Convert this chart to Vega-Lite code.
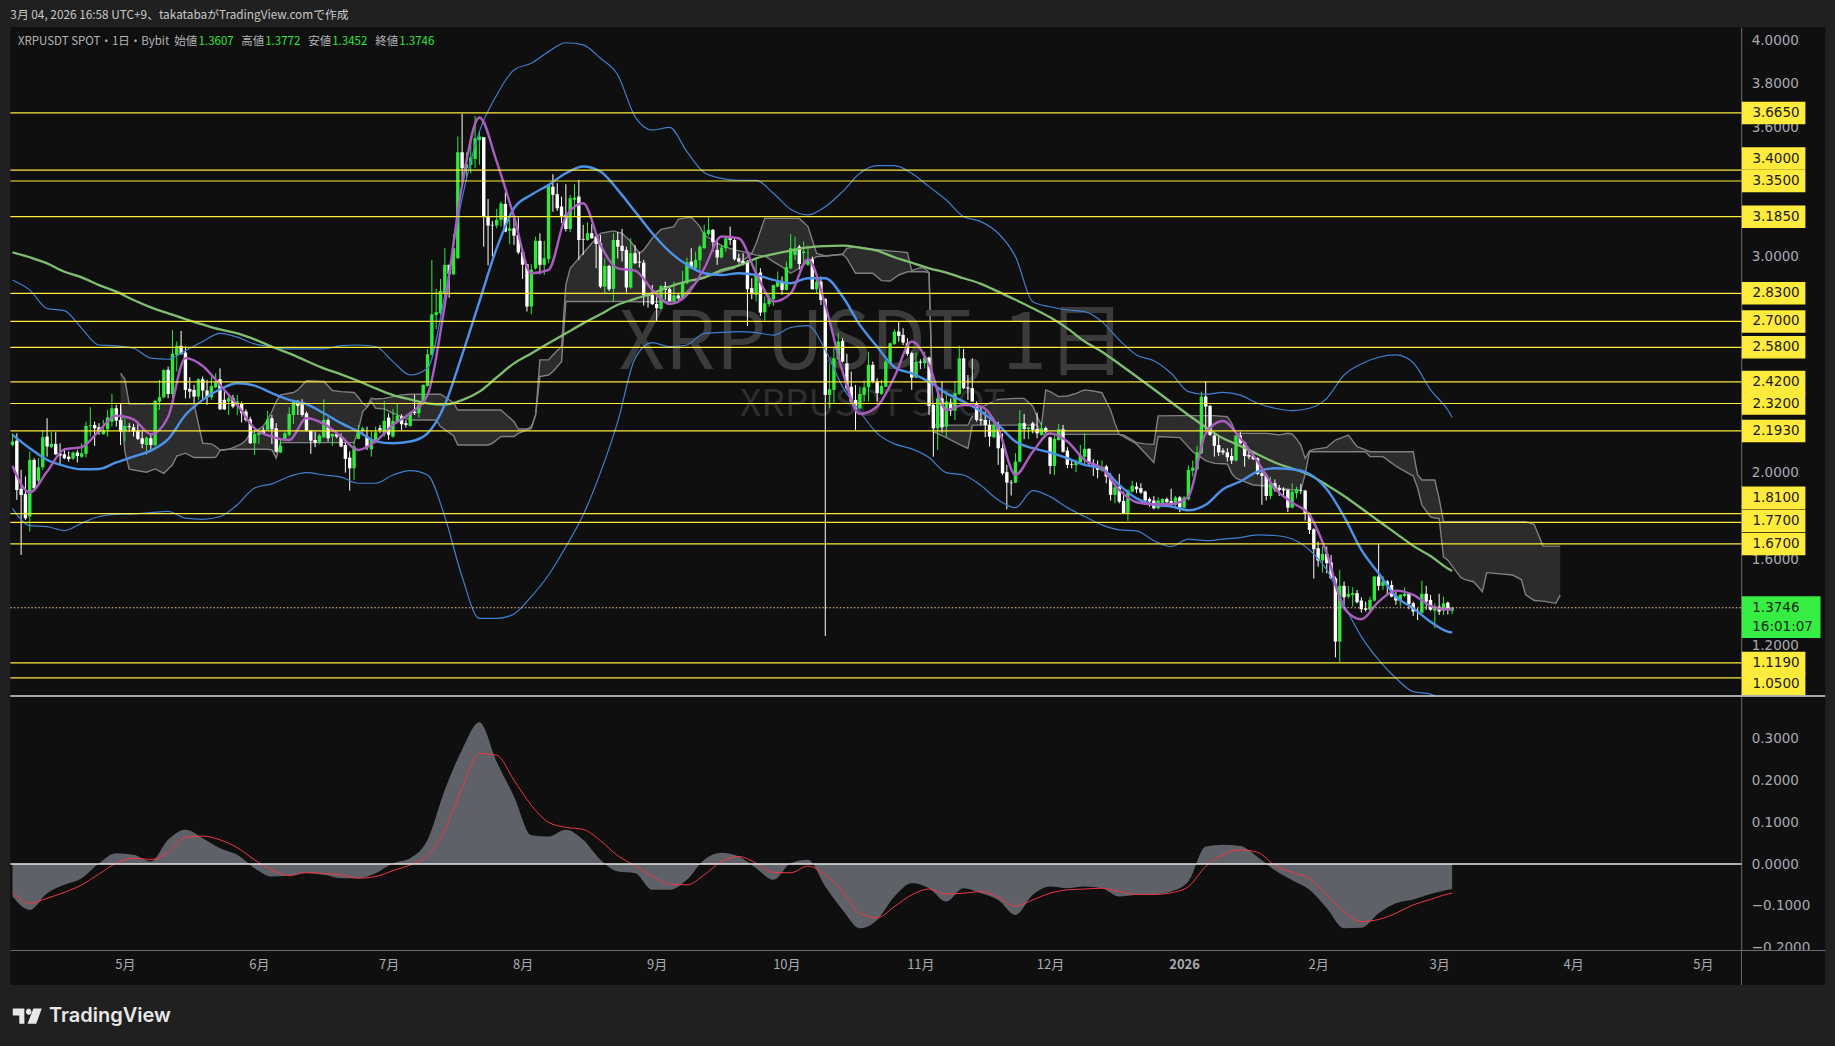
{
"$schema":"https://vega.github.io/schema/vega-lite/v6.json",
"background":"#202020",
"padding":{"left":7.2,"right":12.8,"top":0,"bottom":0},
"spacing":0,
"bounds":"flush",
"config":{"view":{"stroke":null},"axis":{"grid":false,"title":null}},
"datasets":{
"candles":[
{"d":"2025-04-05","o":2.128,"h":2.182,"l":2.121,"c":2.144},
{"d":"2025-04-06","o":2.148,"h":2.182,"l":1.874,"c":1.920},
{"d":"2025-04-07","o":1.925,"h":2.013,"l":1.619,"c":1.897},
{"d":"2025-04-08","o":1.902,"h":1.982,"l":1.781,"c":1.789},
{"d":"2025-04-09","o":1.797,"h":2.098,"l":1.727,"c":2.059},
{"d":"2025-04-10","o":2.059,"h":2.067,"l":1.920,"c":1.928},
{"d":"2025-04-11","o":1.963,"h":2.067,"l":1.951,"c":2.025},
{"d":"2025-04-12","o":2.025,"h":2.195,"l":2.013,"c":2.164},
{"d":"2025-04-13","o":2.167,"h":2.252,"l":2.074,"c":2.121},
{"d":"2025-04-14","o":2.118,"h":2.190,"l":2.113,"c":2.133},
{"d":"2025-04-15","o":2.133,"h":2.187,"l":2.082,"c":2.085},
{"d":"2025-04-16","o":2.088,"h":2.136,"l":2.040,"c":2.079},
{"d":"2025-04-17","o":2.085,"h":2.113,"l":2.062,"c":2.067},
{"d":"2025-04-18","o":2.074,"h":2.098,"l":2.051,"c":2.063},
{"d":"2025-04-19","o":2.065,"h":2.098,"l":2.059,"c":2.093},
{"d":"2025-04-20","o":2.093,"h":2.105,"l":2.047,"c":2.077},
{"d":"2025-04-21","o":2.074,"h":2.136,"l":2.067,"c":2.090},
{"d":"2025-04-22","o":2.087,"h":2.236,"l":2.071,"c":2.216},
{"d":"2025-04-23","o":2.215,"h":2.303,"l":2.167,"c":2.219},
{"d":"2025-04-24","o":2.221,"h":2.236,"l":2.124,"c":2.205},
{"d":"2025-04-25","o":2.210,"h":2.229,"l":2.175,"c":2.190},
{"d":"2025-04-26","o":2.179,"h":2.244,"l":2.175,"c":2.198},
{"d":"2025-04-27","o":2.201,"h":2.290,"l":2.167,"c":2.256},
{"d":"2025-04-28","o":2.236,"h":2.364,"l":2.213,"c":2.298},
{"d":"2025-04-29","o":2.298,"h":2.314,"l":2.213,"c":2.241},
{"d":"2025-04-30","o":2.244,"h":2.321,"l":2.128,"c":2.190},
{"d":"2025-05-01","o":2.192,"h":2.256,"l":2.144,"c":2.216},
{"d":"2025-05-02","o":2.215,"h":2.229,"l":2.190,"c":2.210},
{"d":"2025-05-03","o":2.210,"h":2.226,"l":2.167,"c":2.190},
{"d":"2025-05-04","o":2.195,"h":2.226,"l":2.151,"c":2.156},
{"d":"2025-05-05","o":2.159,"h":2.198,"l":2.113,"c":2.133},
{"d":"2025-05-06","o":2.128,"h":2.167,"l":2.082,"c":2.162},
{"d":"2025-05-07","o":2.159,"h":2.175,"l":2.108,"c":2.128},
{"d":"2025-05-08","o":2.128,"h":2.337,"l":2.121,"c":2.332},
{"d":"2025-05-09","o":2.329,"h":2.429,"l":2.290,"c":2.349},
{"d":"2025-05-10","o":2.349,"h":2.476,"l":2.344,"c":2.476},
{"d":"2025-05-11","o":2.476,"h":2.491,"l":2.344,"c":2.364},
{"d":"2025-05-12","o":2.364,"h":2.661,"l":2.344,"c":2.550},
{"d":"2025-05-13","o":2.545,"h":2.607,"l":2.468,"c":2.587},
{"d":"2025-05-14","o":2.587,"h":2.656,"l":2.545,"c":2.550},
{"d":"2025-05-15","o":2.556,"h":2.584,"l":2.344,"c":2.383},
{"d":"2025-05-16","o":2.388,"h":2.442,"l":2.344,"c":2.375},
{"d":"2025-05-17","o":2.383,"h":2.406,"l":2.321,"c":2.352},
{"d":"2025-05-18","o":2.352,"h":2.437,"l":2.337,"c":2.432},
{"d":"2025-05-19","o":2.432,"h":2.445,"l":2.337,"c":2.380},
{"d":"2025-05-20","o":2.380,"h":2.429,"l":2.314,"c":2.349},
{"d":"2025-05-21","o":2.349,"h":2.445,"l":2.337,"c":2.401},
{"d":"2025-05-22","o":2.395,"h":2.460,"l":2.391,"c":2.417},
{"d":"2025-05-23","o":2.432,"h":2.483,"l":2.290,"c":2.293},
{"d":"2025-05-24","o":2.337,"h":2.380,"l":2.290,"c":2.293},
{"d":"2025-05-25","o":2.329,"h":2.360,"l":2.267,"c":2.344},
{"d":"2025-05-26","o":2.344,"h":2.360,"l":2.298,"c":2.306},
{"d":"2025-05-27","o":2.310,"h":2.360,"l":2.267,"c":2.329},
{"d":"2025-05-28","o":2.321,"h":2.329,"l":2.232,"c":2.275},
{"d":"2025-05-29","o":2.283,"h":2.293,"l":2.236,"c":2.244},
{"d":"2025-05-30","o":2.247,"h":2.259,"l":2.133,"c":2.136},
{"d":"2025-05-31","o":2.136,"h":2.205,"l":2.082,"c":2.179},
{"d":"2025-06-01","o":2.175,"h":2.205,"l":2.133,"c":2.185},
{"d":"2025-06-02","o":2.198,"h":2.210,"l":2.175,"c":2.179},
{"d":"2025-06-03","o":2.198,"h":2.287,"l":2.195,"c":2.247},
{"d":"2025-06-04","o":2.252,"h":2.267,"l":2.133,"c":2.201},
{"d":"2025-06-05","o":2.205,"h":2.229,"l":2.093,"c":2.097},
{"d":"2025-06-06","o":2.093,"h":2.151,"l":2.090,"c":2.124},
{"d":"2025-06-07","o":2.155,"h":2.190,"l":2.148,"c":2.182},
{"d":"2025-06-08","o":2.175,"h":2.303,"l":2.167,"c":2.272},
{"d":"2025-06-09","o":2.267,"h":2.332,"l":2.226,"c":2.329},
{"d":"2025-06-10","o":2.329,"h":2.337,"l":2.267,"c":2.309},
{"d":"2025-06-11","o":2.317,"h":2.340,"l":2.259,"c":2.267},
{"d":"2025-06-12","o":2.275,"h":2.283,"l":2.190,"c":2.195},
{"d":"2025-06-13","o":2.195,"h":2.195,"l":2.087,"c":2.148},
{"d":"2025-06-14","o":2.151,"h":2.190,"l":2.118,"c":2.139},
{"d":"2025-06-15","o":2.139,"h":2.179,"l":2.133,"c":2.172},
{"d":"2025-06-16","o":2.164,"h":2.340,"l":2.159,"c":2.244},
{"d":"2025-06-17","o":2.244,"h":2.252,"l":2.144,"c":2.159},
{"d":"2025-06-18","o":2.167,"h":2.182,"l":2.124,"c":2.179},
{"d":"2025-06-19","o":2.178,"h":2.190,"l":2.159,"c":2.167},
{"d":"2025-06-20","o":2.167,"h":2.182,"l":2.118,"c":2.121},
{"d":"2025-06-21","o":2.128,"h":2.144,"l":2.000,"c":2.063},
{"d":"2025-06-22","o":2.070,"h":2.098,"l":1.917,"c":2.020},
{"d":"2025-06-23","o":2.020,"h":2.144,"l":1.966,"c":2.121},
{"d":"2025-06-24","o":2.156,"h":2.221,"l":2.155,"c":2.193},
{"d":"2025-06-25","o":2.193,"h":2.213,"l":2.182,"c":2.205},
{"d":"2025-06-26","o":2.167,"h":2.213,"l":2.105,"c":2.118},
{"d":"2025-06-27","o":2.108,"h":2.190,"l":2.074,"c":2.151},
{"d":"2025-06-28","o":2.141,"h":2.213,"l":2.136,"c":2.187},
{"d":"2025-06-29","o":2.206,"h":2.221,"l":2.183,"c":2.198},
{"d":"2025-06-30","o":2.182,"h":2.332,"l":2.167,"c":2.240},
{"d":"2025-07-01","o":2.255,"h":2.275,"l":2.152,"c":2.175},
{"d":"2025-07-02","o":2.167,"h":2.295,"l":2.162,"c":2.240},
{"d":"2025-07-03","o":2.233,"h":2.317,"l":2.229,"c":2.264},
{"d":"2025-07-04","o":2.260,"h":2.270,"l":2.198,"c":2.224},
{"d":"2025-07-05","o":2.229,"h":2.244,"l":2.209,"c":2.221},
{"d":"2025-07-06","o":2.216,"h":2.283,"l":2.213,"c":2.275},
{"d":"2025-07-07","o":2.283,"h":2.360,"l":2.267,"c":2.275},
{"d":"2025-07-08","o":2.275,"h":2.321,"l":2.255,"c":2.314},
{"d":"2025-07-09","o":2.318,"h":2.409,"l":2.314,"c":2.406},
{"d":"2025-07-10","o":2.401,"h":2.573,"l":2.398,"c":2.548},
{"d":"2025-07-11","o":2.545,"h":2.985,"l":2.542,"c":2.733},
{"d":"2025-07-12","o":2.730,"h":2.851,"l":2.665,"c":2.743},
{"d":"2025-07-13","o":2.738,"h":2.897,"l":2.730,"c":2.841},
{"d":"2025-07-14","o":2.830,"h":3.039,"l":2.823,"c":2.962},
{"d":"2025-07-15","o":2.962,"h":2.962,"l":2.810,"c":2.920},
{"d":"2025-07-16","o":2.918,"h":3.104,"l":2.915,"c":3.039},
{"d":"2025-07-17","o":2.993,"h":3.556,"l":2.989,"c":3.483},
{"d":"2025-07-18","o":3.483,"h":3.661,"l":3.350,"c":3.409},
{"d":"2025-07-19","o":3.409,"h":3.483,"l":3.350,"c":3.428},
{"d":"2025-07-20","o":3.425,"h":3.556,"l":3.386,"c":3.458},
{"d":"2025-07-21","o":3.452,"h":3.651,"l":3.409,"c":3.548},
{"d":"2025-07-22","o":3.540,"h":3.579,"l":3.425,"c":3.556},
{"d":"2025-07-23","o":3.553,"h":3.553,"l":3.046,"c":3.185},
{"d":"2025-07-24","o":3.185,"h":3.267,"l":2.959,"c":3.144},
{"d":"2025-07-25","o":3.147,"h":3.165,"l":3.000,"c":3.144},
{"d":"2025-07-26","o":3.144,"h":3.221,"l":3.131,"c":3.170},
{"d":"2025-07-27","o":3.170,"h":3.255,"l":3.139,"c":3.246},
{"d":"2025-07-28","o":3.244,"h":3.298,"l":3.113,"c":3.116},
{"d":"2025-07-29","o":3.119,"h":3.170,"l":3.057,"c":3.131},
{"d":"2025-07-30","o":3.131,"h":3.178,"l":3.054,"c":3.097},
{"d":"2025-07-31","o":3.100,"h":3.181,"l":3.011,"c":3.020},
{"d":"2025-08-01","o":3.023,"h":3.026,"l":2.897,"c":2.962},
{"d":"2025-08-02","o":2.965,"h":2.965,"l":2.746,"c":2.769},
{"d":"2025-08-03","o":2.769,"h":2.965,"l":2.733,"c":2.939},
{"d":"2025-08-04","o":2.946,"h":3.093,"l":2.939,"c":3.073},
{"d":"2025-08-05","o":3.073,"h":3.108,"l":2.918,"c":2.962},
{"d":"2025-08-06","o":2.962,"h":3.073,"l":2.915,"c":2.992},
{"d":"2025-08-07","o":2.989,"h":3.335,"l":2.969,"c":3.332},
{"d":"2025-08-08","o":3.324,"h":3.381,"l":3.208,"c":3.286},
{"d":"2025-08-09","o":3.289,"h":3.340,"l":3.212,"c":3.224},
{"d":"2025-08-10","o":3.232,"h":3.278,"l":3.155,"c":3.185},
{"d":"2025-08-11","o":3.193,"h":3.335,"l":3.116,"c":3.128},
{"d":"2025-08-12","o":3.128,"h":3.286,"l":3.113,"c":3.270},
{"d":"2025-08-13","o":3.263,"h":3.335,"l":3.185,"c":3.273},
{"d":"2025-08-14","o":3.278,"h":3.355,"l":2.985,"c":3.077},
{"d":"2025-08-15","o":3.080,"h":3.147,"l":3.008,"c":3.077},
{"d":"2025-08-16","o":3.077,"h":3.159,"l":3.073,"c":3.108},
{"d":"2025-08-17","o":3.108,"h":3.150,"l":3.082,"c":3.085},
{"d":"2025-08-18","o":3.093,"h":3.097,"l":2.946,"c":3.059},
{"d":"2025-08-19","o":3.062,"h":3.100,"l":2.854,"c":2.861},
{"d":"2025-08-20","o":2.861,"h":2.992,"l":2.826,"c":2.957},
{"d":"2025-08-21","o":2.957,"h":2.962,"l":2.841,"c":2.849},
{"d":"2025-08-22","o":2.851,"h":3.108,"l":2.792,"c":3.077},
{"d":"2025-08-23","o":3.077,"h":3.113,"l":2.992,"c":3.046},
{"d":"2025-08-24","o":3.050,"h":3.128,"l":2.977,"c":3.026},
{"d":"2025-08-25","o":3.031,"h":3.046,"l":2.835,"c":2.857},
{"d":"2025-08-26","o":2.857,"h":3.085,"l":2.851,"c":3.016},
{"d":"2025-08-27","o":3.016,"h":3.054,"l":2.965,"c":2.969},
{"d":"2025-08-28","o":2.977,"h":3.023,"l":2.949,"c":2.972},
{"d":"2025-08-29","o":2.972,"h":2.985,"l":2.773,"c":2.823},
{"d":"2025-08-30","o":2.823,"h":2.830,"l":2.764,"c":2.818},
{"d":"2025-08-31","o":2.823,"h":2.869,"l":2.776,"c":2.780},
{"d":"2025-09-01","o":2.781,"h":2.815,"l":2.702,"c":2.761},
{"d":"2025-09-02","o":2.758,"h":2.869,"l":2.753,"c":2.864},
{"d":"2025-09-03","o":2.864,"h":2.884,"l":2.800,"c":2.846},
{"d":"2025-09-04","o":2.849,"h":2.861,"l":2.792,"c":2.795},
{"d":"2025-09-05","o":2.795,"h":2.884,"l":2.789,"c":2.820},
{"d":"2025-09-06","o":2.820,"h":2.826,"l":2.800,"c":2.807},
{"d":"2025-09-07","o":2.807,"h":2.934,"l":2.804,"c":2.881},
{"d":"2025-09-08","o":2.877,"h":2.996,"l":2.872,"c":2.974},
{"d":"2025-09-09","o":2.977,"h":3.039,"l":2.943,"c":2.946},
{"d":"2025-09-10","o":2.946,"h":3.023,"l":2.943,"c":2.985},
{"d":"2025-09-11","o":2.983,"h":3.054,"l":2.939,"c":3.046},
{"d":"2025-09-12","o":3.039,"h":3.147,"l":3.036,"c":3.111},
{"d":"2025-09-13","o":3.104,"h":3.182,"l":3.097,"c":3.124},
{"d":"2025-09-14","o":3.124,"h":3.128,"l":3.023,"c":3.067},
{"d":"2025-09-15","o":3.031,"h":3.070,"l":2.962,"c":2.996},
{"d":"2025-09-16","o":2.996,"h":3.054,"l":2.992,"c":3.042},
{"d":"2025-09-17","o":3.039,"h":3.093,"l":3.023,"c":3.085},
{"d":"2025-09-18","o":3.085,"h":3.139,"l":3.054,"c":3.077},
{"d":"2025-09-19","o":3.077,"h":3.090,"l":2.982,"c":2.988},
{"d":"2025-09-20","o":2.992,"h":3.013,"l":2.972,"c":2.977},
{"d":"2025-09-21","o":2.980,"h":3.016,"l":2.959,"c":2.965},
{"d":"2025-09-22","o":2.977,"h":2.985,"l":2.679,"c":2.849},
{"d":"2025-09-23","o":2.854,"h":2.900,"l":2.803,"c":2.826},
{"d":"2025-09-24","o":2.823,"h":2.996,"l":2.792,"c":2.923},
{"d":"2025-09-25","o":2.926,"h":2.946,"l":2.725,"c":2.741},
{"d":"2025-09-26","o":2.742,"h":2.815,"l":2.704,"c":2.784},
{"d":"2025-09-27","o":2.781,"h":2.830,"l":2.769,"c":2.807},
{"d":"2025-09-28","o":2.803,"h":2.869,"l":2.772,"c":2.869},
{"d":"2025-09-29","o":2.861,"h":2.931,"l":2.858,"c":2.884},
{"d":"2025-09-30","o":2.884,"h":2.908,"l":2.823,"c":2.846},
{"d":"2025-10-01","o":2.846,"h":2.977,"l":2.843,"c":2.951},
{"d":"2025-10-02","o":2.946,"h":3.105,"l":2.941,"c":3.039},
{"d":"2025-10-03","o":3.008,"h":3.093,"l":2.985,"c":3.039},
{"d":"2025-10-04","o":3.046,"h":3.054,"l":2.941,"c":2.966},
{"d":"2025-10-05","o":3.016,"h":3.070,"l":2.962,"c":3.023},
{"d":"2025-10-06","o":2.962,"h":3.050,"l":2.957,"c":2.988},
{"d":"2025-10-07","o":2.988,"h":3.000,"l":2.849,"c":2.849},
{"d":"2025-10-08","o":2.849,"h":2.926,"l":2.830,"c":2.884},
{"d":"2025-10-09","o":2.884,"h":2.908,"l":2.776,"c":2.799},
{"d":"2025-10-10","o":2.804,"h":2.807,"l":1.244,"c":2.360},
{"d":"2025-10-11","o":2.360,"h":2.506,"l":2.298,"c":2.386},
{"d":"2025-10-12","o":2.383,"h":2.583,"l":2.318,"c":2.529},
{"d":"2025-10-13","o":2.525,"h":2.648,"l":2.522,"c":2.607},
{"d":"2025-10-14","o":2.610,"h":2.622,"l":2.510,"c":2.514},
{"d":"2025-10-15","o":2.506,"h":2.550,"l":2.383,"c":2.391},
{"d":"2025-10-16","o":2.398,"h":2.468,"l":2.321,"c":2.329},
{"d":"2025-10-17","o":2.337,"h":2.406,"l":2.198,"c":2.293},
{"d":"2025-10-18","o":2.298,"h":2.398,"l":2.293,"c":2.364},
{"d":"2025-10-19","o":2.360,"h":2.426,"l":2.329,"c":2.395},
{"d":"2025-10-20","o":2.395,"h":2.560,"l":2.329,"c":2.499},
{"d":"2025-10-21","o":2.499,"h":2.514,"l":2.414,"c":2.422},
{"d":"2025-10-22","o":2.422,"h":2.437,"l":2.329,"c":2.368},
{"d":"2025-10-23","o":2.364,"h":2.429,"l":2.360,"c":2.401},
{"d":"2025-10-24","o":2.398,"h":2.522,"l":2.395,"c":2.514},
{"d":"2025-10-25","o":2.506,"h":2.602,"l":2.503,"c":2.599},
{"d":"2025-10-26","o":2.596,"h":2.664,"l":2.591,"c":2.653},
{"d":"2025-10-27","o":2.653,"h":2.699,"l":2.607,"c":2.633},
{"d":"2025-10-28","o":2.638,"h":2.668,"l":2.591,"c":2.602},
{"d":"2025-10-29","o":2.599,"h":2.622,"l":2.540,"c":2.550},
{"d":"2025-10-30","o":2.553,"h":2.560,"l":2.383,"c":2.440},
{"d":"2025-10-31","o":2.440,"h":2.556,"l":2.437,"c":2.514},
{"d":"2025-11-01","o":2.514,"h":2.525,"l":2.479,"c":2.509},
{"d":"2025-11-02","o":2.506,"h":2.560,"l":2.483,"c":2.534},
{"d":"2025-11-03","o":2.533,"h":2.537,"l":2.267,"c":2.309},
{"d":"2025-11-04","o":2.313,"h":2.321,"l":2.074,"c":2.206},
{"d":"2025-11-05","o":2.206,"h":2.383,"l":2.105,"c":2.344},
{"d":"2025-11-06","o":2.344,"h":2.422,"l":2.185,"c":2.210},
{"d":"2025-11-07","o":2.213,"h":2.378,"l":2.164,"c":2.329},
{"d":"2025-11-08","o":2.324,"h":2.344,"l":2.263,"c":2.287},
{"d":"2025-11-09","o":2.287,"h":2.422,"l":2.244,"c":2.368},
{"d":"2025-11-10","o":2.364,"h":2.587,"l":2.360,"c":2.529},
{"d":"2025-11-11","o":2.529,"h":2.573,"l":2.386,"c":2.391},
{"d":"2025-11-12","o":2.394,"h":2.452,"l":2.337,"c":2.389},
{"d":"2025-11-13","o":2.391,"h":2.529,"l":2.329,"c":2.329},
{"d":"2025-11-14","o":2.321,"h":2.329,"l":2.236,"c":2.244},
{"d":"2025-11-15","o":2.247,"h":2.306,"l":2.221,"c":2.241},
{"d":"2025-11-16","o":2.244,"h":2.283,"l":2.164,"c":2.221},
{"d":"2025-11-17","o":2.221,"h":2.244,"l":2.121,"c":2.167},
{"d":"2025-11-18","o":2.164,"h":2.252,"l":2.159,"c":2.221},
{"d":"2025-11-19","o":2.221,"h":2.236,"l":2.036,"c":2.113},
{"d":"2025-11-20","o":2.113,"h":2.182,"l":1.989,"c":1.997},
{"d":"2025-11-21","o":2.002,"h":2.036,"l":1.830,"c":1.954},
{"d":"2025-11-22","o":1.954,"h":1.966,"l":1.894,"c":1.951},
{"d":"2025-11-23","o":1.954,"h":2.090,"l":1.951,"c":2.051},
{"d":"2025-11-24","o":2.051,"h":2.290,"l":2.047,"c":2.229},
{"d":"2025-11-25","o":2.229,"h":2.272,"l":2.155,"c":2.202},
{"d":"2025-11-26","o":2.201,"h":2.213,"l":2.155,"c":2.210},
{"d":"2025-11-27","o":2.229,"h":2.236,"l":2.182,"c":2.198},
{"d":"2025-11-28","o":2.202,"h":2.278,"l":2.159,"c":2.182},
{"d":"2025-11-29","o":2.175,"h":2.232,"l":2.170,"c":2.206},
{"d":"2025-11-30","o":2.206,"h":2.213,"l":2.182,"c":2.190},
{"d":"2025-12-01","o":2.164,"h":2.167,"l":1.993,"c":2.031},
{"d":"2025-12-02","o":2.031,"h":2.182,"l":1.989,"c":2.156},
{"d":"2025-12-03","o":2.151,"h":2.226,"l":2.148,"c":2.201},
{"d":"2025-12-04","o":2.201,"h":2.221,"l":2.093,"c":2.097},
{"d":"2025-12-05","o":2.102,"h":2.118,"l":2.020,"c":2.036},
{"d":"2025-12-06","o":2.039,"h":2.056,"l":2.020,"c":2.036},
{"d":"2025-12-07","o":2.034,"h":2.059,"l":2.002,"c":2.051},
{"d":"2025-12-08","o":2.048,"h":2.128,"l":2.040,"c":2.082},
{"d":"2025-12-09","o":2.074,"h":2.182,"l":2.036,"c":2.110},
{"d":"2025-12-10","o":2.110,"h":2.113,"l":2.036,"c":2.043},
{"d":"2025-12-11","o":2.043,"h":2.062,"l":1.985,"c":2.028},
{"d":"2025-12-12","o":2.031,"h":2.056,"l":1.974,"c":2.013},
{"d":"2025-12-13","o":2.009,"h":2.056,"l":2.005,"c":2.028},
{"d":"2025-12-14","o":2.028,"h":2.036,"l":1.951,"c":1.982},
{"d":"2025-12-15","o":1.985,"h":1.997,"l":1.871,"c":1.897},
{"d":"2025-12-16","o":1.897,"h":1.954,"l":1.858,"c":1.932},
{"d":"2025-12-17","o":1.935,"h":1.994,"l":1.858,"c":1.866},
{"d":"2025-12-18","o":1.869,"h":1.912,"l":1.809,"c":1.812},
{"d":"2025-12-19","o":1.812,"h":1.923,"l":1.777,"c":1.917},
{"d":"2025-12-20","o":1.912,"h":1.962,"l":1.908,"c":1.939},
{"d":"2025-12-21","o":1.935,"h":1.955,"l":1.905,"c":1.923},
{"d":"2025-12-22","o":1.928,"h":1.951,"l":1.902,"c":1.908},
{"d":"2025-12-23","o":1.912,"h":1.917,"l":1.866,"c":1.871},
{"d":"2025-12-24","o":1.878,"h":1.886,"l":1.843,"c":1.866},
{"d":"2025-12-25","o":1.871,"h":1.892,"l":1.830,"c":1.835},
{"d":"2025-12-26","o":1.835,"h":1.886,"l":1.830,"c":1.871},
{"d":"2025-12-27","o":1.858,"h":1.881,"l":1.854,"c":1.878},
{"d":"2025-12-28","o":1.878,"h":1.885,"l":1.858,"c":1.863},
{"d":"2025-12-29","o":1.869,"h":1.925,"l":1.846,"c":1.851},
{"d":"2025-12-30","o":1.851,"h":1.892,"l":1.846,"c":1.885},
{"d":"2025-12-31","o":1.885,"h":1.892,"l":1.817,"c":1.838},
{"d":"2026-01-01","o":1.838,"h":1.892,"l":1.835,"c":1.885},
{"d":"2026-01-02","o":1.877,"h":2.033,"l":1.871,"c":2.013},
{"d":"2026-01-03","o":2.009,"h":2.056,"l":1.982,"c":2.023},
{"d":"2026-01-04","o":2.017,"h":2.124,"l":2.013,"c":2.094},
{"d":"2026-01-05","o":2.090,"h":2.375,"l":2.087,"c":2.352},
{"d":"2026-01-06","o":2.352,"h":2.422,"l":2.198,"c":2.306},
{"d":"2026-01-07","o":2.309,"h":2.313,"l":2.170,"c":2.175},
{"d":"2026-01-08","o":2.172,"h":2.182,"l":2.074,"c":2.124},
{"d":"2026-01-09","o":2.128,"h":2.167,"l":2.077,"c":2.094},
{"d":"2026-01-10","o":2.102,"h":2.113,"l":2.082,"c":2.093},
{"d":"2026-01-11","o":2.094,"h":2.113,"l":2.051,"c":2.071},
{"d":"2026-01-12","o":2.077,"h":2.113,"l":2.040,"c":2.056},
{"d":"2026-01-13","o":2.056,"h":2.175,"l":2.051,"c":2.172},
{"d":"2026-01-14","o":2.172,"h":2.190,"l":2.133,"c":2.136},
{"d":"2026-01-15","o":2.139,"h":2.144,"l":2.028,"c":2.077},
{"d":"2026-01-16","o":2.082,"h":2.105,"l":2.062,"c":2.074},
{"d":"2026-01-17","o":2.077,"h":2.087,"l":2.059,"c":2.062},
{"d":"2026-01-18","o":2.067,"h":2.071,"l":1.989,"c":1.994},
{"d":"2026-01-19","o":1.997,"h":2.028,"l":1.851,"c":1.985},
{"d":"2026-01-20","o":1.989,"h":1.997,"l":1.871,"c":1.892},
{"d":"2026-01-21","o":1.892,"h":1.982,"l":1.877,"c":1.954},
{"d":"2026-01-22","o":1.951,"h":1.969,"l":1.912,"c":1.923},
{"d":"2026-01-23","o":1.928,"h":1.943,"l":1.892,"c":1.920},
{"d":"2026-01-24","o":1.923,"h":1.932,"l":1.889,"c":1.917},
{"d":"2026-01-25","o":1.920,"h":1.923,"l":1.818,"c":1.838},
{"d":"2026-01-26","o":1.838,"h":1.951,"l":1.835,"c":1.912},
{"d":"2026-01-27","o":1.905,"h":1.935,"l":1.881,"c":1.923},
{"d":"2026-01-28","o":1.920,"h":1.948,"l":1.902,"c":1.917},
{"d":"2026-01-29","o":1.917,"h":1.920,"l":1.778,"c":1.812},
{"d":"2026-01-30","o":1.812,"h":1.815,"l":1.716,"c":1.735},
{"d":"2026-01-31","o":1.738,"h":1.743,"l":1.510,"c":1.645},
{"d":"2026-02-01","o":1.650,"h":1.681,"l":1.565,"c":1.593},
{"d":"2026-02-02","o":1.593,"h":1.658,"l":1.537,"c":1.624},
{"d":"2026-02-03","o":1.624,"h":1.658,"l":1.534,"c":1.581},
{"d":"2026-02-04","o":1.584,"h":1.619,"l":1.506,"c":1.511},
{"d":"2026-02-05","o":1.511,"h":1.519,"l":1.145,"c":1.218},
{"d":"2026-02-06","o":1.218,"h":1.550,"l":1.124,"c":1.476},
{"d":"2026-02-07","o":1.476,"h":1.496,"l":1.388,"c":1.423},
{"d":"2026-02-08","o":1.426,"h":1.476,"l":1.418,"c":1.439},
{"d":"2026-02-09","o":1.434,"h":1.469,"l":1.380,"c":1.442},
{"d":"2026-02-10","o":1.442,"h":1.457,"l":1.395,"c":1.400},
{"d":"2026-02-11","o":1.408,"h":1.423,"l":1.352,"c":1.368},
{"d":"2026-02-12","o":1.372,"h":1.403,"l":1.357,"c":1.365},
{"d":"2026-02-13","o":1.365,"h":1.426,"l":1.357,"c":1.411},
{"d":"2026-02-14","o":1.408,"h":1.522,"l":1.403,"c":1.519},
{"d":"2026-02-15","o":1.519,"h":1.670,"l":1.454,"c":1.476},
{"d":"2026-02-16","o":1.476,"h":1.522,"l":1.457,"c":1.496},
{"d":"2026-02-17","o":1.496,"h":1.503,"l":1.437,"c":1.480},
{"d":"2026-02-18","o":1.480,"h":1.500,"l":1.423,"c":1.426},
{"d":"2026-02-19","o":1.429,"h":1.449,"l":1.388,"c":1.408},
{"d":"2026-02-20","o":1.408,"h":1.439,"l":1.380,"c":1.434},
{"d":"2026-02-21","o":1.429,"h":1.469,"l":1.422,"c":1.439},
{"d":"2026-02-22","o":1.439,"h":1.445,"l":1.368,"c":1.392},
{"d":"2026-02-23","o":1.395,"h":1.403,"l":1.337,"c":1.357},
{"d":"2026-02-24","o":1.361,"h":1.372,"l":1.318,"c":1.357},
{"d":"2026-02-25","o":1.352,"h":1.500,"l":1.346,"c":1.439},
{"d":"2026-02-26","o":1.439,"h":1.476,"l":1.365,"c":1.403},
{"d":"2026-02-27","o":1.411,"h":1.434,"l":1.361,"c":1.365},
{"d":"2026-02-28","o":1.361,"h":1.395,"l":1.280,"c":1.377},
{"d":"2026-03-01","o":1.380,"h":1.439,"l":1.341,"c":1.357},
{"d":"2026-03-02","o":1.361,"h":1.426,"l":1.341,"c":1.395},
{"d":"2026-03-03","o":1.398,"h":1.403,"l":1.344,"c":1.372},
{"d":"2026-03-04","o":1.3607,"h":1.3772,"l":1.3452,"c":1.3746}
],
"lines":[
{"d":"2025-04-05","up":2.892,"lo":1.835,"mid":2.175,"fast":2.031,"slow":3.020,"macd":-0.078,"sig":-0.066},
{"d":"2025-04-09","up":2.845,"lo":1.755,"mid":2.113,"fast":1.909,"slow":2.997,"macd":-0.110,"sig":-0.094},
{"d":"2025-04-13","up":2.760,"lo":1.750,"mid":2.059,"fast":2.005,"slow":2.969,"macd":-0.070,"sig":-0.082},
{"d":"2025-04-17","up":2.750,"lo":1.732,"mid":2.031,"fast":2.108,"slow":2.930,"macd":-0.050,"sig":-0.068},
{"d":"2025-04-21","up":2.668,"lo":1.766,"mid":2.016,"fast":2.118,"slow":2.904,"macd":-0.034,"sig":-0.050},
{"d":"2025-04-25","up":2.591,"lo":1.797,"mid":2.017,"fast":2.193,"slow":2.868,"macd":0.002,"sig":-0.024},
{"d":"2025-04-29","up":2.587,"lo":1.807,"mid":2.047,"fast":2.264,"slow":2.838,"macd":0.026,"sig":0.002},
{"d":"2025-05-03","up":2.576,"lo":1.809,"mid":2.074,"fast":2.247,"slow":2.799,"macd":0.022,"sig":0.014},
{"d":"2025-05-07","up":2.530,"lo":1.815,"mid":2.102,"fast":2.178,"slow":2.765,"macd":0.006,"sig":0.011},
{"d":"2025-05-11","up":2.525,"lo":1.821,"mid":2.155,"fast":2.259,"slow":2.737,"macd":0.058,"sig":0.028},
{"d":"2025-05-15","up":2.565,"lo":1.789,"mid":2.267,"fast":2.530,"slow":2.711,"macd":0.082,"sig":0.064},
{"d":"2025-05-19","up":2.607,"lo":1.784,"mid":2.337,"fast":2.494,"slow":2.686,"macd":0.062,"sig":0.067},
{"d":"2025-05-23","up":2.645,"lo":1.797,"mid":2.386,"fast":2.406,"slow":2.663,"macd":0.038,"sig":0.058},
{"d":"2025-05-27","up":2.627,"lo":1.851,"mid":2.414,"fast":2.313,"slow":2.645,"macd":0.022,"sig":0.039},
{"d":"2025-05-31","up":2.596,"lo":1.929,"mid":2.403,"fast":2.205,"slow":2.617,"macd":-0.010,"sig":0.010},
{"d":"2025-06-04","up":2.581,"lo":1.948,"mid":2.368,"fast":2.167,"slow":2.583,"macd":-0.030,"sig":-0.014},
{"d":"2025-06-08","up":2.573,"lo":1.982,"mid":2.337,"fast":2.151,"slow":2.552,"macd":-0.028,"sig":-0.028},
{"d":"2025-06-12","up":2.573,"lo":2.000,"mid":2.317,"fast":2.252,"slow":2.517,"macd":-0.022,"sig":-0.020},
{"d":"2025-06-16","up":2.573,"lo":1.989,"mid":2.275,"fast":2.226,"slow":2.483,"macd":-0.026,"sig":-0.023},
{"d":"2025-06-20","up":2.588,"lo":1.979,"mid":2.229,"fast":2.167,"slow":2.455,"macd":-0.034,"sig":-0.026},
{"d":"2025-06-24","up":2.591,"lo":1.951,"mid":2.190,"fast":2.105,"slow":2.424,"macd":-0.034,"sig":-0.034},
{"d":"2025-06-28","up":2.584,"lo":1.951,"mid":2.145,"fast":2.145,"slow":2.390,"macd":-0.022,"sig":-0.030},
{"d":"2025-07-02","up":2.514,"lo":1.989,"mid":2.136,"fast":2.221,"slow":2.359,"macd":0.002,"sig":-0.016},
{"d":"2025-07-06","up":2.452,"lo":2.009,"mid":2.144,"fast":2.275,"slow":2.339,"macd":0.014,"sig":-0.002},
{"d":"2025-07-10","up":2.483,"lo":1.989,"mid":2.182,"fast":2.360,"slow":2.321,"macd":0.058,"sig":0.020},
{"d":"2025-07-14","up":2.823,"lo":1.796,"mid":2.314,"fast":2.777,"slow":2.315,"macd":0.178,"sig":0.082},
{"d":"2025-07-18","up":3.270,"lo":1.518,"mid":2.545,"fast":3.332,"slow":2.336,"macd":0.274,"sig":0.182},
{"d":"2025-07-22","up":3.579,"lo":1.325,"mid":2.792,"fast":3.644,"slow":2.375,"macd":0.340,"sig":0.265},
{"d":"2025-07-26","up":3.748,"lo":1.325,"mid":3.039,"fast":3.440,"slow":2.441,"macd":0.245,"sig":0.261},
{"d":"2025-07-30","up":3.864,"lo":1.346,"mid":3.224,"fast":3.185,"slow":2.506,"macd":0.162,"sig":0.201},
{"d":"2025-08-03","up":3.895,"lo":1.426,"mid":3.286,"fast":2.923,"slow":2.552,"macd":0.069,"sig":0.141},
{"d":"2025-08-07","up":3.949,"lo":1.526,"mid":3.332,"fast":2.939,"slow":2.599,"macd":0.066,"sig":0.100},
{"d":"2025-08-11","up":3.990,"lo":1.657,"mid":3.386,"fast":3.185,"slow":2.645,"macd":0.082,"sig":0.088},
{"d":"2025-08-15","up":3.980,"lo":1.804,"mid":3.417,"fast":3.247,"slow":2.691,"macd":0.058,"sig":0.083},
{"d":"2025-08-19","up":3.918,"lo":2.000,"mid":3.394,"fast":3.054,"slow":2.733,"macd":0.010,"sig":0.056},
{"d":"2025-08-23","up":3.841,"lo":2.236,"mid":3.309,"fast":2.946,"slow":2.777,"macd":-0.018,"sig":0.020},
{"d":"2025-08-27","up":3.648,"lo":2.529,"mid":3.209,"fast":2.935,"slow":2.804,"macd":-0.022,"sig":-0.004},
{"d":"2025-08-31","up":3.586,"lo":2.602,"mid":3.108,"fast":2.846,"slow":2.831,"macd":-0.062,"sig":-0.029},
{"d":"2025-09-04","up":3.598,"lo":2.583,"mid":3.023,"fast":2.781,"slow":2.861,"macd":-0.062,"sig":-0.048},
{"d":"2025-09-08","up":3.486,"lo":2.591,"mid":2.962,"fast":2.823,"slow":2.885,"macd":-0.038,"sig":-0.050},
{"d":"2025-09-12","up":3.389,"lo":2.645,"mid":2.923,"fast":2.946,"slow":2.903,"macd":0.010,"sig":-0.026},
{"d":"2025-09-16","up":3.362,"lo":2.649,"mid":2.915,"fast":3.093,"slow":2.938,"macd":0.027,"sig":0.006},
{"d":"2025-09-20","up":3.353,"lo":2.653,"mid":2.923,"fast":3.085,"slow":2.958,"macd":0.018,"sig":0.018},
{"d":"2025-09-24","up":3.353,"lo":2.648,"mid":2.915,"fast":2.923,"slow":2.992,"macd":-0.010,"sig":0.002},
{"d":"2025-09-28","up":3.293,"lo":2.637,"mid":2.892,"fast":2.792,"slow":3.012,"macd":-0.038,"sig":-0.020},
{"d":"2025-10-02","up":3.219,"lo":2.672,"mid":2.877,"fast":2.830,"slow":3.028,"macd":0.002,"sig":-0.021},
{"d":"2025-10-06","up":3.193,"lo":2.681,"mid":2.900,"fast":2.988,"slow":3.043,"macd":0.010,"sig":-0.005},
{"d":"2025-10-10","up":3.231,"lo":2.568,"mid":2.900,"fast":2.776,"slow":3.049,"macd":-0.054,"sig":-0.026},
{"d":"2025-10-14","up":3.301,"lo":2.398,"mid":2.815,"fast":2.468,"slow":3.051,"macd":-0.110,"sig":-0.066},
{"d":"2025-10-18","up":3.386,"lo":2.283,"mid":2.684,"fast":2.272,"slow":3.042,"macd":-0.154,"sig":-0.118},
{"d":"2025-10-22","up":3.421,"lo":2.182,"mid":2.583,"fast":2.306,"slow":3.028,"macd":-0.134,"sig":-0.129},
{"d":"2025-10-26","up":3.421,"lo":2.133,"mid":2.488,"fast":2.444,"slow":2.997,"macd":-0.078,"sig":-0.102},
{"d":"2025-10-30","up":3.386,"lo":2.110,"mid":2.460,"fast":2.607,"slow":2.972,"macd":-0.046,"sig":-0.074},
{"d":"2025-11-03","up":3.324,"lo":2.070,"mid":2.421,"fast":2.499,"slow":2.946,"macd":-0.058,"sig":-0.060},
{"d":"2025-11-07","up":3.262,"lo":2.000,"mid":2.368,"fast":2.290,"slow":2.926,"macd":-0.090,"sig":-0.072},
{"d":"2025-11-11","up":3.185,"lo":1.989,"mid":2.329,"fast":2.313,"slow":2.900,"macd":-0.058,"sig":-0.070},
{"d":"2025-11-15","up":3.162,"lo":1.940,"mid":2.283,"fast":2.306,"slow":2.874,"macd":-0.070,"sig":-0.066},
{"d":"2025-11-19","up":3.108,"lo":1.874,"mid":2.221,"fast":2.205,"slow":2.838,"macd":-0.086,"sig":-0.080},
{"d":"2025-11-23","up":3.000,"lo":1.838,"mid":2.144,"fast":1.990,"slow":2.800,"macd":-0.122,"sig":-0.101},
{"d":"2025-11-27","up":2.791,"lo":1.917,"mid":2.113,"fast":2.097,"slow":2.761,"macd":-0.074,"sig":-0.086},
{"d":"2025-12-01","up":2.768,"lo":1.889,"mid":2.093,"fast":2.182,"slow":2.719,"macd":-0.054,"sig":-0.070},
{"d":"2025-12-05","up":2.753,"lo":1.838,"mid":2.067,"fast":2.144,"slow":2.668,"macd":-0.058,"sig":-0.062},
{"d":"2025-12-09","up":2.745,"lo":1.797,"mid":2.036,"fast":2.059,"slow":2.607,"macd":-0.054,"sig":-0.060},
{"d":"2025-12-13","up":2.699,"lo":1.758,"mid":2.020,"fast":2.020,"slow":2.560,"macd":-0.058,"sig":-0.058},
{"d":"2025-12-17","up":2.614,"lo":1.735,"mid":1.943,"fast":1.920,"slow":2.503,"macd":-0.078,"sig":-0.066},
{"d":"2025-12-21","up":2.545,"lo":1.730,"mid":1.881,"fast":1.863,"slow":2.445,"macd":-0.074,"sig":-0.073},
{"d":"2025-12-25","up":2.518,"lo":1.685,"mid":1.851,"fast":1.854,"slow":2.386,"macd":-0.073,"sig":-0.073},
{"d":"2025-12-29","up":2.460,"lo":1.658,"mid":1.843,"fast":1.854,"slow":2.326,"macd":-0.066,"sig":-0.069},
{"d":"2026-01-02","up":2.375,"lo":1.692,"mid":1.826,"fast":1.889,"slow":2.267,"macd":-0.042,"sig":-0.054},
{"d":"2026-01-06","up":2.362,"lo":1.685,"mid":1.851,"fast":2.182,"slow":2.210,"macd":0.042,"sig":-0.006},
{"d":"2026-01-10","up":2.372,"lo":1.692,"mid":1.923,"fast":2.239,"slow":2.159,"macd":0.046,"sig":0.022},
{"d":"2026-01-14","up":2.359,"lo":1.699,"mid":1.959,"fast":2.159,"slow":2.124,"macd":0.043,"sig":0.034},
{"d":"2026-01-18","up":2.321,"lo":1.712,"mid":2.005,"fast":2.051,"slow":2.085,"macd":0.017,"sig":0.028},
{"d":"2026-01-22","up":2.298,"lo":1.709,"mid":2.020,"fast":1.928,"slow":2.047,"macd":-0.015,"sig":-0.003},
{"d":"2026-01-26","up":2.287,"lo":1.693,"mid":2.016,"fast":1.861,"slow":2.019,"macd":-0.039,"sig":-0.020},
{"d":"2026-01-30","up":2.298,"lo":1.642,"mid":1.994,"fast":1.804,"slow":1.989,"macd":-0.062,"sig":-0.035},
{"d":"2026-02-03","up":2.344,"lo":1.550,"mid":1.923,"fast":1.627,"slow":1.943,"macd":-0.106,"sig":-0.074},
{"d":"2026-02-07","up":2.452,"lo":1.388,"mid":1.796,"fast":1.372,"slow":1.892,"macd":-0.154,"sig":-0.114},
{"d":"2026-02-11","up":2.503,"lo":1.241,"mid":1.642,"fast":1.321,"slow":1.835,"macd":-0.153,"sig":-0.138},
{"d":"2026-02-15","up":2.534,"lo":1.133,"mid":1.534,"fast":1.403,"slow":1.776,"macd":-0.118,"sig":-0.133},
{"d":"2026-02-19","up":2.545,"lo":1.048,"mid":1.426,"fast":1.454,"slow":1.719,"macd":-0.094,"sig":-0.118},
{"d":"2026-02-23","up":2.509,"lo":0.986,"mid":1.372,"fast":1.434,"slow":1.661,"macd":-0.085,"sig":-0.098},
{"d":"2026-02-27","up":2.383,"lo":0.975,"mid":1.310,"fast":1.383,"slow":1.614,"macd":-0.072,"sig":-0.085},
{"d":"2026-03-03","up":2.290,"lo":0.930,"mid":1.264,"fast":1.366,"slow":1.556,"macd":-0.062,"sig":-0.072},
{"d":"2026-03-04","up":2.256,"lo":0.920,"mid":1.260,"fast":1.370,"slow":1.545,"macd":-0.060,"sig":-0.070}
],
"cloud":[
{"d":"2025-04-30","a":2.460,"b":2.321},{"d":"2025-05-01","a":2.432,"b":2.097},{"d":"2025-05-02","a":2.317,"b":2.016},
{"d":"2025-05-06","a":2.317,"b":2.002},{"d":"2025-05-08","a":2.317,"b":2.017},{"d":"2025-05-10","a":2.317,"b":1.997},
{"d":"2025-05-12","a":2.317,"b":2.036},{"d":"2025-05-13","a":2.317,"b":2.077},{"d":"2025-05-15","a":2.317,"b":2.090},
{"d":"2025-05-17","a":2.317,"b":2.070},{"d":"2025-05-19","a":2.136,"b":2.070},{"d":"2025-05-21","a":2.133,"b":2.070},
{"d":"2025-05-22","a":2.121,"b":2.071},{"d":"2025-05-23","a":2.105,"b":2.102},{"d":"2025-05-25","a":2.108,"b":2.108},
{"d":"2025-05-26","a":2.116,"b":2.108},{"d":"2025-05-28","a":2.133,"b":2.108},{"d":"2025-05-29","a":2.151,"b":2.108},
{"d":"2025-05-30","a":2.182,"b":2.108},{"d":"2025-05-31","a":2.190,"b":2.108},{"d":"2025-06-01","a":2.201,"b":2.108},
{"d":"2025-06-02","a":2.216,"b":2.108},{"d":"2025-06-03","a":2.244,"b":2.108},{"d":"2025-06-04","a":2.283,"b":2.105},
{"d":"2025-06-05","a":2.329,"b":2.067},{"d":"2025-06-06","a":2.360,"b":2.139},{"d":"2025-06-09","a":2.371,"b":2.139},
{"d":"2025-06-10","a":2.383,"b":2.139},{"d":"2025-06-12","a":2.425,"b":2.139},{"d":"2025-06-16","a":2.422,"b":2.139},
{"d":"2025-06-18","a":2.380,"b":2.139},{"d":"2025-06-20","a":2.375,"b":2.139},{"d":"2025-06-23","a":2.371,"b":2.139},
{"d":"2025-06-24","a":2.349,"b":2.198},{"d":"2025-06-25","a":2.321,"b":2.283},{"d":"2025-06-26","a":2.306,"b":2.303},
{"d":"2025-06-27","a":2.344,"b":2.329},{"d":"2025-06-28","a":2.341,"b":2.298},{"d":"2025-06-30","a":2.344,"b":2.295},
{"d":"2025-07-02","a":2.352,"b":2.275},{"d":"2025-07-04","a":2.360,"b":2.259},{"d":"2025-07-06","a":2.363,"b":2.244},
{"d":"2025-07-12","a":2.363,"b":2.244},{"d":"2025-07-13","a":2.363,"b":2.213},{"d":"2025-07-16","a":2.324,"b":2.171},
{"d":"2025-07-17","a":2.290,"b":2.128},{"d":"2025-07-24","a":2.290,"b":2.128},{"d":"2025-07-25","a":2.290,"b":2.136},
{"d":"2025-07-27","a":2.290,"b":2.167},{"d":"2025-07-30","a":2.236,"b":2.167},{"d":"2025-07-31","a":2.202,"b":2.182},
{"d":"2025-08-02","a":2.202,"b":2.198},{"d":"2025-08-03","a":2.213,"b":2.205},{"d":"2025-08-04","a":2.267,"b":2.267},
{"d":"2025-08-05","a":2.522,"b":2.445},{"d":"2025-08-07","a":2.522,"b":2.452},{"d":"2025-08-08","a":2.545,"b":2.468},
{"d":"2025-08-10","a":2.584,"b":2.514},{"d":"2025-08-11","a":2.869,"b":2.792},{"d":"2025-08-12","a":2.946,"b":2.792},
{"d":"2025-08-14","a":2.992,"b":2.792},{"d":"2025-08-16","a":3.039,"b":2.792},{"d":"2025-08-19","a":3.108,"b":2.792},
{"d":"2025-08-22","a":3.119,"b":2.792},{"d":"2025-08-24","a":3.108,"b":2.792},{"d":"2025-08-26","a":3.070,"b":2.792},
{"d":"2025-08-28","a":3.015,"b":2.791},{"d":"2025-08-29","a":3.031,"b":2.791},{"d":"2025-08-31","a":3.085,"b":2.791},
{"d":"2025-09-02","a":3.126,"b":2.791},{"d":"2025-09-05","a":3.139,"b":2.791},{"d":"2025-09-06","a":3.173,"b":2.791},
{"d":"2025-09-07","a":3.177,"b":2.815},{"d":"2025-09-09","a":3.182,"b":2.861},{"d":"2025-09-10","a":3.162,"b":2.876},
{"d":"2025-09-11","a":3.139,"b":2.899},{"d":"2025-09-12","a":3.100,"b":2.907},{"d":"2025-09-14","a":3.077,"b":2.915},
{"d":"2025-09-16","a":3.051,"b":2.930},{"d":"2025-09-19","a":3.031,"b":2.946},{"d":"2025-09-21","a":3.023,"b":2.984},
{"d":"2025-09-23","a":3.015,"b":3.012},{"d":"2025-09-24","a":3.061,"b":3.007},{"d":"2025-09-26","a":3.177,"b":3.003},
{"d":"2025-09-28","a":3.177,"b":2.977},{"d":"2025-09-30","a":3.177,"b":2.953},{"d":"2025-10-02","a":3.177,"b":2.923},
{"d":"2025-10-04","a":3.177,"b":2.946},{"d":"2025-10-06","a":3.139,"b":2.977},{"d":"2025-10-08","a":3.015,"b":3.000},
{"d":"2025-10-10","a":3.003,"b":3.003},{"d":"2025-10-14","a":3.011,"b":3.011},{"d":"2025-10-15","a":3.038,"b":2.992},
{"d":"2025-10-17","a":3.046,"b":2.923},{"d":"2025-10-21","a":3.034,"b":2.923},{"d":"2025-10-23","a":3.031,"b":2.889},
{"d":"2025-10-25","a":3.026,"b":2.887},{"d":"2025-10-27","a":3.023,"b":2.915},{"d":"2025-10-29","a":3.018,"b":2.930},
{"d":"2025-10-30","a":2.935,"b":2.930},{"d":"2025-11-01","a":2.949,"b":2.930},{"d":"2025-11-02","a":2.946,"b":2.930},
{"d":"2025-11-03","a":2.926,"b":2.926},{"d":"2025-11-04","a":2.220,"b":2.190},{"d":"2025-11-07","a":2.220,"b":2.162},
{"d":"2025-11-10","a":2.220,"b":2.131},{"d":"2025-11-12","a":2.220,"b":2.112},{"d":"2025-11-13","a":2.260,"b":2.220},
{"d":"2025-11-14","a":2.287,"b":2.220},{"d":"2025-11-16","a":2.313,"b":2.220},{"d":"2025-11-19","a":2.339,"b":2.220},
{"d":"2025-11-23","a":2.344,"b":2.220},{"d":"2025-11-25","a":2.344,"b":2.220},{"d":"2025-11-27","a":2.308,"b":2.220},
{"d":"2025-11-28","a":2.259,"b":2.220},{"d":"2025-11-29","a":2.220,"b":2.177},{"d":"2025-11-30","a":2.383,"b":2.177},
{"d":"2025-12-01","a":2.375,"b":2.177},{"d":"2025-12-03","a":2.352,"b":2.177},{"d":"2025-12-05","a":2.355,"b":2.177},
{"d":"2025-12-07","a":2.367,"b":2.177},{"d":"2025-12-09","a":2.383,"b":2.177},{"d":"2025-12-11","a":2.378,"b":2.177},
{"d":"2025-12-13","a":2.370,"b":2.177},{"d":"2025-12-14","a":2.329,"b":2.177},{"d":"2025-12-15","a":2.290,"b":2.177},
{"d":"2025-12-16","a":2.228,"b":2.177},{"d":"2025-12-17","a":2.177,"b":2.177},{"d":"2025-12-18","a":2.175,"b":2.167},
{"d":"2025-12-21","a":2.139,"b":2.133},{"d":"2025-12-23","a":2.133,"b":2.090},{"d":"2025-12-25","a":2.131,"b":2.047},
{"d":"2025-12-26","a":2.263,"b":2.167},{"d":"2025-12-31","a":2.264,"b":2.162},{"d":"2026-01-03","a":2.264,"b":2.097},
{"d":"2026-01-06","a":2.264,"b":2.056},{"d":"2026-01-08","a":2.264,"b":2.043},{"d":"2026-01-11","a":2.259,"b":2.040},
{"d":"2026-01-12","a":2.229,"b":1.997},{"d":"2026-01-13","a":2.182,"b":1.974},{"d":"2026-01-17","a":2.182,"b":1.943},
{"d":"2026-01-20","a":2.182,"b":1.938},{"d":"2026-01-23","a":2.175,"b":1.928},{"d":"2026-01-25","a":2.182,"b":1.923},
{"d":"2026-01-26","a":2.179,"b":1.920},{"d":"2026-01-27","a":2.156,"b":1.920},{"d":"2026-01-28","a":2.128,"b":1.917},
{"d":"2026-01-29","a":2.066,"b":1.993},{"d":"2026-01-30","a":2.100,"b":2.097},{"d":"2026-01-31","a":2.108,"b":2.097},
{"d":"2026-02-03","a":2.117,"b":2.097},{"d":"2026-02-05","a":2.151,"b":2.097},{"d":"2026-02-08","a":2.174,"b":2.097},
{"d":"2026-02-10","a":2.120,"b":2.097},{"d":"2026-02-12","a":2.105,"b":2.097},{"d":"2026-02-13","a":2.097,"b":2.074},
{"d":"2026-02-16","a":2.097,"b":2.074},{"d":"2026-02-19","a":2.097,"b":2.030},{"d":"2026-02-22","a":2.097,"b":1.995},
{"d":"2026-02-23","a":2.097,"b":1.985},{"d":"2026-02-24","a":1.990,"b":1.930},{"d":"2026-02-25","a":1.966,"b":1.850},
{"d":"2026-02-27","a":1.966,"b":1.795},{"d":"2026-02-28","a":1.966,"b":1.790},{"d":"2026-03-01","a":1.880,"b":1.788},
{"d":"2026-03-02","a":1.773,"b":1.610},{"d":"2026-03-03","a":1.773,"b":1.595},{"d":"2026-03-06","a":1.773,"b":1.515},
{"d":"2026-03-07","a":1.773,"b":1.505},{"d":"2026-03-09","a":1.773,"b":1.495},{"d":"2026-03-11","a":1.773,"b":1.449},
{"d":"2026-03-12","a":1.773,"b":1.537},{"d":"2026-03-18","a":1.773,"b":1.526},{"d":"2026-03-20","a":1.773,"b":1.505},
{"d":"2026-03-21","a":1.773,"b":1.435},{"d":"2026-03-23","a":1.760,"b":1.408},{"d":"2026-03-25","a":1.660,"b":1.405},
{"d":"2026-03-28","a":1.660,"b":1.395},{"d":"2026-03-29","a":1.660,"b":1.433}
],
"levels":[
{"price":3.665,"pos":3.665,"label":"3.6650"},{"price":3.4,"pos":3.454,"label":"3.4000"},{"price":3.35,"pos":3.35,"label":"3.3500"},
{"price":3.185,"pos":3.185,"label":"3.1850"},{"price":2.83,"pos":2.83,"label":"2.8300"},{"price":2.7,"pos":2.7,"label":"2.7000"},
{"price":2.58,"pos":2.58,"label":"2.5800"},{"price":2.42,"pos":2.42,"label":"2.4200"},{"price":2.32,"pos":2.32,"label":"2.3200"},
{"price":2.193,"pos":2.193,"label":"2.1930"},{"price":1.81,"pos":1.884,"label":"1.8100"},{"price":1.77,"pos":1.777,"label":"1.7700"},
{"price":1.67,"pos":1.67,"label":"1.6700"},{"price":1.119,"pos":1.119,"label":"1.1190"},{"price":1.05,"pos":1.021,"label":"1.0500"}
],
"legend":[
{"d":"2025-04-06T06:00:00Z","t":"XRPUSDT SPOT・1日・Bybit","kind":"name"},
{"d":"2025-05-12T10:00:00Z","t":"始値","kind":"name"},{"d":"2025-05-18T01:00:00Z","t":"1.3607","kind":"val"},
{"d":"2025-05-27T22:00:00Z","t":"高値","kind":"name"},{"d":"2025-06-02T11:00:00Z","t":"1.3772","kind":"val"},
{"d":"2025-06-12T10:00:00Z","t":"安値","kind":"name"},{"d":"2025-06-17T23:00:00Z","t":"1.3452","kind":"val"},
{"d":"2025-06-27T22:00:00Z","t":"終値","kind":"name"},{"d":"2025-07-03T11:00:00Z","t":"1.3746","kind":"val"}
]
},
"vconcat":[
{"width":1815,"height":27,
 "data":{"values":[{"t":"3月 04, 2026 16:58 UTC+9、takatabaがTradingView.comで作成"}]},
 "mark":{"type":"text","align":"left","baseline":"middle","font":"Noto Sans CJK JP","fontSize":11.8,"color":"#c8c8c8"},
 "encoding":{
  "x":{"datum":{"utc":true,"year":2025,"month":4,"date":4,"hours":12},"type":"temporal","scale":{"type":"utc","domain":["2025-04-04T11:16:00Z","2026-05-29T07:00:00Z"]},"axis":null},
  "y":{"datum":0.44,"type":"quantitative","scale":{"domain":[0,1]},"axis":null},
  "text":{"field":"t"}
 }
},
{"width":1815,"height":669,
 "view":{"fill":"#0f0f0f"},
 "layer":[
 {"data":{"name":"cloud"},"mark":{"type":"area","color":"#ffffff","opacity":0.12},
  "encoding":{"x":{"field":"d","type":"temporal","scale":{"type":"utc","domain":["2025-04-04T11:16:00Z","2026-05-29T07:00:00Z"],"padding":0},"axis":null},
   "y":{"field":"a","type":"quantitative","scale":{"domain":[0.966,4.063],"nice":false,"zero":false},
    "axis":{"orient":"right","offset":-84,"values":[4,3.8,3.6,3,2,1.6,1.2],"format":".4f","ticks":false,"labelPadding":10,"labelFont":"DejaVu Sans","labelFontSize":13.5,"labelColor":"#a9abb2","labelFlush":false,"labelOverlap":false,"domainColor":"#6a6a6a","domainWidth":1,"title":null}},
   "y2":{"field":"b"}}},
 {"data":{"name":"cloud"},"mark":{"type":"line","color":"#7f7f7f","strokeWidth":1.4},"encoding":{"x":{"field":"d","type":"temporal","scale":{"type":"utc"},"axis":null},"y":{"field":"a","type":"quantitative"}}},
 {"data":{"name":"cloud"},"mark":{"type":"line","color":"#7f7f7f","strokeWidth":1.4},"encoding":{"x":{"field":"d","type":"temporal","scale":{"type":"utc"},"axis":null},"y":{"field":"b","type":"quantitative"}}},
 {"data":{"values":[{"t":"XRPUSDT, 1日"}]},"mark":{"type":"text","align":"center","baseline":"middle","font":"Noto Sans CJK JP","fontSize":80,"color":"#3b3b3b"},
  "encoding":{"x":{"datum":{"utc":true,"year":2025,"month":10,"date":21},"type":"temporal","scale":{"type":"utc"},"axis":null},"y":{"datum":2.591,"type":"quantitative"},"text":{"field":"t"}}},
 {"data":{"values":[{"t":"XRPUSDT SPOT"}]},"mark":{"type":"text","align":"center","baseline":"middle","font":"Noto Sans CJK JP","fontSize":37,"color":"#2e2e2e"},
  "encoding":{"x":{"datum":{"utc":true,"year":2025,"month":10,"date":21},"type":"temporal","scale":{"type":"utc"},"axis":null},"y":{"datum":2.313,"type":"quantitative"},"text":{"field":"t"}}},
 {"data":{"name":"candles"},"mark":{"type":"rule","strokeWidth":1},
  "encoding":{"x":{"field":"d","type":"temporal","scale":{"type":"utc"},"axis":null},"y":{"field":"l","type":"quantitative"},"y2":{"field":"h"},"color":{"condition":{"test":"datum.c>=datum.o","value":"#2ee83a"},"value":"#ffffff"}}},
 {"data":{"name":"candles"},"mark":{"type":"bar","size":3.4},
  "encoding":{"x":{"field":"d","type":"temporal","scale":{"type":"utc","padding":0},"axis":null},"y":{"field":"o","type":"quantitative"},"y2":{"field":"c"},"color":{"condition":{"test":"datum.c>=datum.o","value":"#2ee83a"},"value":"#ffffff"}}},
 {"data":{"name":"lines"},"mark":{"type":"line","color":"#3f7fd0","strokeWidth":1.2,"interpolate":"monotone","clip":true},"encoding":{"x":{"field":"d","type":"temporal","scale":{"type":"utc"},"axis":null},"y":{"field":"up","type":"quantitative"}}},
 {"data":{"name":"lines"},"mark":{"type":"line","color":"#3f7fd0","strokeWidth":1.2,"interpolate":"monotone","clip":true},"encoding":{"x":{"field":"d","type":"temporal","scale":{"type":"utc"},"axis":null},"y":{"field":"lo","type":"quantitative"}}},
 {"data":{"name":"lines"},"mark":{"type":"line","color":"#7fbf70","strokeWidth":2.3,"interpolate":"monotone"},"encoding":{"x":{"field":"d","type":"temporal","scale":{"type":"utc"},"axis":null},"y":{"field":"slow","type":"quantitative"}}},
 {"data":{"name":"lines"},"mark":{"type":"line","color":"#4b93ea","strokeWidth":2.4,"interpolate":"monotone"},"encoding":{"x":{"field":"d","type":"temporal","scale":{"type":"utc"},"axis":null},"y":{"field":"mid","type":"quantitative"}}},
 {"data":{"name":"lines"},"mark":{"type":"line","color":"#ab5cc0","strokeWidth":2.4,"interpolate":"monotone"},"encoding":{"x":{"field":"d","type":"temporal","scale":{"type":"utc"},"axis":null},"y":{"field":"fast","type":"quantitative"}}},
 {"data":{"name":"levels"},"mark":{"type":"rule","color":"#ffeb3b","strokeWidth":1.2},
  "encoding":{"x":{"datum":{"utc":true,"year":2025,"month":4,"date":4,"hours":12},"type":"temporal","scale":{"type":"utc"},"axis":null},"x2":{"datum":{"utc":true,"year":2026,"month":5,"date":9,"hours":22}},"y":{"field":"price","type":"quantitative"}}},
 {"data":{"values":[{"price":1.3746}]},"mark":{"type":"rule","color":"#f3c79a","strokeWidth":1.2,"strokeDash":[1.5,2]},
  "encoding":{"x":{"datum":{"utc":true,"year":2025,"month":4,"date":4,"hours":12},"type":"temporal","scale":{"type":"utc"},"axis":null},"x2":{"datum":{"utc":true,"year":2026,"month":5,"date":9,"hours":22}},"y":{"field":"price","type":"quantitative"}}},
 {"data":{"name":"levels"},"mark":{"type":"rule","color":"#ffeb3b","strokeWidth":22.5,"strokeCap":"butt"},
  "encoding":{"x":{"datum":{"utc":true,"year":2026,"month":5,"date":10},"type":"temporal","scale":{"type":"utc"},"axis":null},"x2":{"datum":{"utc":true,"year":2026,"month":5,"date":24,"hours":17}},"y":{"field":"pos","type":"quantitative"}}},
 {"data":{"values":[{"price":1.3315}]},"mark":{"type":"rule","color":"#36ee42","strokeWidth":41.7,"strokeCap":"butt"},
  "encoding":{"x":{"datum":{"utc":true,"year":2026,"month":5,"date":10},"type":"temporal","scale":{"type":"utc"},"axis":null},"x2":{"datum":{"utc":true,"year":2026,"month":5,"date":28,"hours":5}},"y":{"field":"price","type":"quantitative"}}},
 {"data":{"name":"levels"},"mark":{"type":"text","align":"center","baseline":"middle","font":"DejaVu Sans","fontSize":13.5,"color":"#1a1a1a"},
  "encoding":{"x":{"datum":{"utc":true,"year":2026,"month":5,"date":17,"hours":22},"type":"temporal","scale":{"type":"utc"},"axis":null},"y":{"field":"pos","type":"quantitative"},"text":{"field":"label"}}},
 {"data":{"values":[{"price":1.3746,"label":"1.3746"},{"price":1.2866,"label":"16:01:07"}]},"mark":{"type":"text","align":"left","baseline":"middle","font":"DejaVu Sans","fontSize":13.5,"color":"#1c2b1c"},
  "encoding":{"x":{"datum":{"utc":true,"year":2026,"month":5,"date":12,"hours":10},"type":"temporal","scale":{"type":"utc"},"axis":null},"y":{"field":"price","type":"quantitative"},"text":{"field":"label"}}},
 {"data":{"name":"legend"},"mark":{"type":"text","align":"left","baseline":"middle","font":"Noto Sans CJK JP","fontSize":11.5},
  "encoding":{"x":{"field":"d","type":"temporal","scale":{"type":"utc"},"axis":null},"y":{"datum":3.995,"type":"quantitative"},"text":{"field":"t"},"color":{"condition":{"test":"datum.kind=='val'","value":"#2ee83a"},"value":"#b3b5ba"}}}
 ]
},
{"width":1815,"height":254,
 "view":{"fill":"#0f0f0f"},
 "layer":[
 {"data":{"name":"lines"},"mark":{"type":"area","color":"#5f6168","opacity":1,"interpolate":"monotone"},
  "encoding":{"x":{"field":"d","type":"temporal","scale":{"type":"utc","domain":["2025-04-04T11:16:00Z","2026-05-29T07:00:00Z"]},"axis":null},
   "y":{"field":"macd","type":"quantitative","stack":null,"scale":{"domain":[-0.2062,0.4029],"nice":false,"zero":false},
   "axis":{"orient":"right","offset":-84,"values":[0.3,0.2,0.1,0,-0.1,-0.2],"format":".4f","ticks":false,"labelPadding":10,"labelFont":"DejaVu Sans","labelFontSize":13.5,"labelColor":"#a9abb2","labelFlush":false,"labelOverlap":false,"domainColor":"#6a6a6a","domainWidth":1,"title":null}}}},
 {"data":{"name":"lines"},"mark":{"type":"line","color":"#f23645","strokeWidth":1,"interpolate":"monotone"},"encoding":{"x":{"field":"d","type":"temporal","scale":{"type":"utc"},"axis":null},"y":{"field":"sig","type":"quantitative"}}},
 {"data":{"values":[{"v":0}]},"mark":{"type":"rule","color":"#e8e8e8","strokeWidth":1.3},
  "encoding":{"x":{"datum":{"utc":true,"year":2025,"month":4,"date":4,"hours":12},"type":"temporal","scale":{"type":"utc"},"axis":null},"x2":{"datum":{"utc":true,"year":2026,"month":5,"date":9,"hours":22}},"y":{"field":"v","type":"quantitative"}}},
 {"data":{"values":[{"v":0.4029}]},"mark":{"type":"rule","color":"#d8dade","strokeWidth":1.3},
  "encoding":{"x":{"datum":{"utc":true,"year":2025,"month":4,"date":4,"hours":12},"type":"temporal","scale":{"type":"utc"},"axis":null},"x2":{"datum":{"utc":true,"year":2026,"month":5,"date":29,"hours":7}},"y":{"field":"v","type":"quantitative"}}}
 ]
},
{"width":1815,"height":35,
 "view":{"fill":"#0f0f0f"},
 "data":{"values":[{"t":"axis"}]},
 "mark":{"type":"rule","color":"#6a6a6a","strokeWidth":1},
 "encoding":{
  "x":{"datum":{"utc":true,"year":2026,"month":5,"date":9,"hours":22},"type":"temporal","scale":{"type":"utc","domain":["2025-04-04T11:16:00Z","2026-05-29T07:00:00Z"]},
   "axis":{"orient":"bottom","offset":-35,"ticks":false,"labelPadding":8,"labelFont":"Noto Sans CJK JP","labelFontSize":13,"labelColor":"#a9abb2","domainColor":"#6a6a6a","domainWidth":1.2,"labelOverlap":false,"labelFlush":false,
    "values":[{"utc":true,"year":2025,"month":5,"date":1},{"utc":true,"year":2025,"month":6,"date":1},{"utc":true,"year":2025,"month":7,"date":1},{"utc":true,"year":2025,"month":8,"date":1},{"utc":true,"year":2025,"month":9,"date":1},{"utc":true,"year":2025,"month":10,"date":1},{"utc":true,"year":2025,"month":11,"date":1},{"utc":true,"year":2025,"month":12,"date":1},{"utc":true,"year":2026,"month":1,"date":1},{"utc":true,"year":2026,"month":2,"date":1},{"utc":true,"year":2026,"month":3,"date":1},{"utc":true,"year":2026,"month":4,"date":1},{"utc":true,"year":2026,"month":5,"date":1}],
    "labelExpr":"utcmonth(datum.value)==0 ? '2026' : (utcmonth(datum.value)+1)+'月'",
    "labelFontWeight":{"condition":{"test":"utcmonth(datum.value)==0","value":"bold"},"value":"normal"}}}
 }
},
{"width":1815,"height":61,
 "encoding":{"y":{"datum":0.49,"type":"quantitative","scale":{"domain":[0,1]},"axis":null}},
 "layer":[
 {"data":{"values":[{"t":"logo"}]},"mark":{"type":"point","filled":true,"color":"#e8e8e8","opacity":1,"size":841,"shape":"M-1 -.52H-.2V.52H-.55V-.05H-1Z M.1 -.52L.24 -.46L.3 -.3L.24 -.14L.1 -.08L-.04 -.14L-.1 -.3L-.04 -.46Z M.42 -.52H1L.62 .52H.02Z"},
  "encoding":{"x":{"datum":{"utc":true,"year":2025,"month":4,"date":8,"hours":10},"type":"temporal","scale":{"type":"utc","domain":["2025-04-04T11:16:00Z","2026-05-29T07:00:00Z"]},"axis":null}}},
 {"data":{"values":[{"t":"TradingView"}]},"mark":{"type":"text","align":"left","baseline":"middle","font":"Inter","fontSize":20,"fontWeight":600,"color":"#e8e8e8"},
  "encoding":{"x":{"datum":{"utc":true,"year":2025,"month":4,"date":13,"hours":10},"type":"temporal","scale":{"type":"utc"},"axis":null},"text":{"field":"t"}}}
 ]
}
]
}
